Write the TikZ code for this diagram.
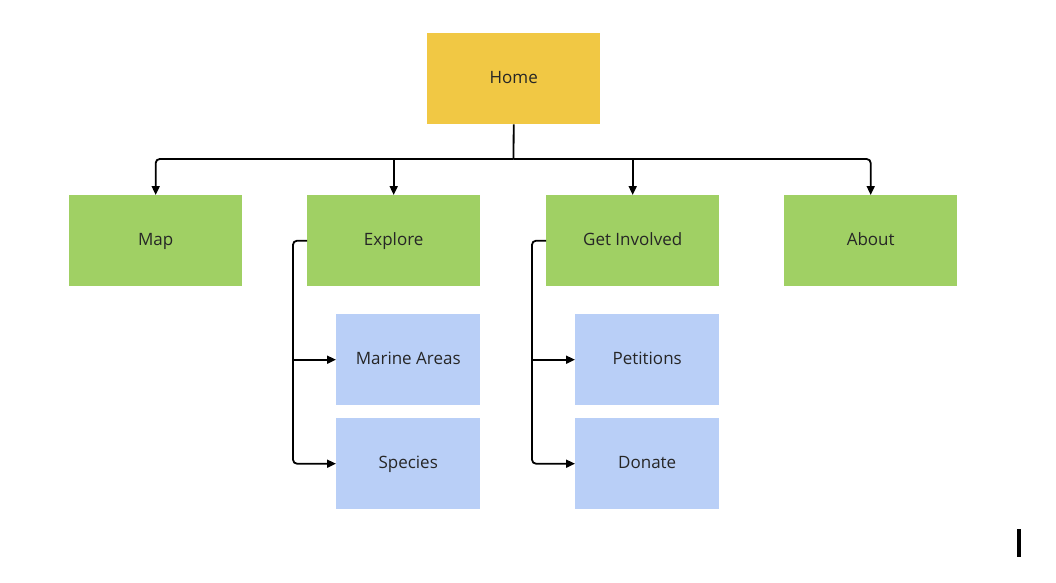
\documentclass[tikz,border=0pt]{standalone}
\usepackage{fontspec}
\setmainfont{Open Sans}
\usetikzlibrary{arrows.meta}
\definecolor{homeY}{HTML}{F1C844}
\definecolor{secG}{HTML}{A0D064}
\definecolor{subB}{HTML}{B9CFF7}
\begin{document}
\begin{tikzpicture}[x=1pt,y=-1pt,
  box/.style={minimum width=173pt,minimum height=91pt,inner sep=0pt,anchor=north west,font=\fontsize{17}{20}\selectfont,text=black!85,text height=12pt,text depth=3pt},
  subbox/.style={box,minimum width=144pt},
  conn/.style={line width=1.8pt,black,rounded corners=4pt},
  arr/.style={conn,-{Triangle[length=9pt,width=8pt]}}]
\useasboundingbox[fill=white] (0,0) rectangle (1056,582);
\node[box,fill=homeY] (home) at (427,33) {Home};
\node[box,fill=secG] (map) at (69,195) {Map};
\node[box,fill=secG] (explore) at (307,195) {Explore};
\node[box,fill=secG] (get) at (546,195) {Get Involved};
\node[box,fill=secG] (about) at (784,195) {About};
\node[subbox,fill=subB] (marine) at (336,314) {Marine Areas};
\node[subbox,fill=subB] (species) at (336,418) {Species};
\node[subbox,fill=subB] (petitions) at (575,314) {Petitions};
\node[subbox,fill=subB] (donate) at (575,418) {Donate};
\coordinate (bus) at (513.5,159);
\coordinate (exl) at (293,0);
\coordinate (gil) at (532,0);
\draw[conn] (home.south) -- (bus);
\draw[arr] (bus) -| (map.north);
\draw[arr] (bus) -| (about.north);
\draw[arr] (explore.north |- bus) -- (explore.north);
\draw[arr] (get.north |- bus) -- (get.north);
\draw[arr] (explore.west) -| (species.west -| exl) -- (species.west);
\draw[arr] (marine.west -| exl) -- (marine.west);
\draw[arr] (get.west) -| (donate.west -| gil) -- (donate.west);
\draw[arr] (petitions.west -| gil) -- (petitions.west);
\fill[black] (1017,529) rectangle (1020.5,557);
\end{tikzpicture}
\end{document}
